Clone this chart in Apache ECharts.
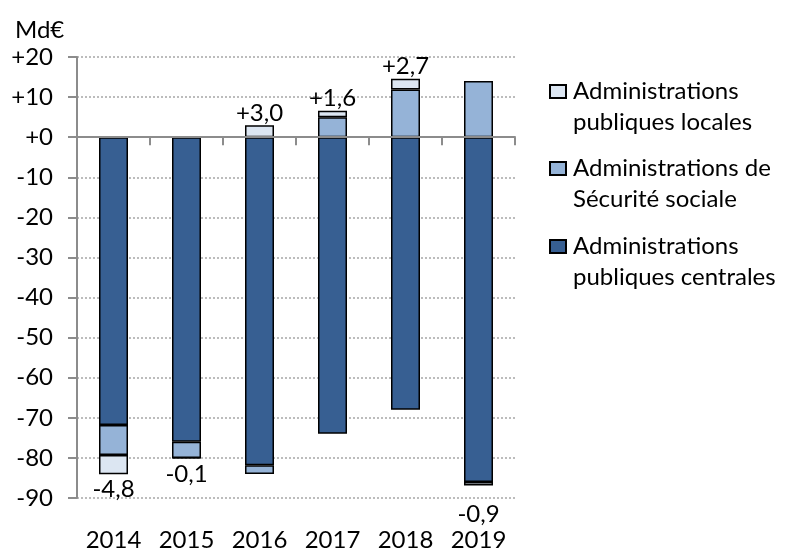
<!DOCTYPE html>
<html>
<head>
<meta charset="utf-8">
<script src="https://cdn.jsdelivr.net/npm/echarts@6/dist/echarts.min.js"></script>
<style>html,body{margin:0;padding:0;background:#fff}#c{width:786px;height:552px}</style>
</head>
<body>
<div id="c"></div>
<script>
const years = ['2014', '2015', '2016', '2017', '2018', '2019'];
const centrales = [-71.8, -76.0, -81.8, -74.0, -68.0, -86.0];
const securiteSociale = [-7.5, -4.0, -2.2, 5.0, 11.9, 14.0];
const locales = [-4.8, -0.1, 3.0, 1.6, 2.7, -0.9];
const yTicks = {min: -90, max: 20, interval: 10};
const seriesNames = ['Administrations publiques centrales', 'Administrations de Sécurité sociale', 'Administrations publiques locales'];
const legendLabels = {
  'Administrations publiques locales': ['Administrations', 'publiques locales'],
  'Administrations de Sécurité sociale': ['Administrations de', 'Sécurité sociale'],
  'Administrations publiques centrales': ['Administrations', 'publiques centrales']
};

const FONT = 'Lato';
const FS = 24;
const colors = ['#375F92', '#95B3D7', '#DCE6F2'];
const fmt = v => (v > 0 ? '+' : '') + v.toFixed(1).replace('.', ',');
const labelExtraDistance = {5: 17};

const chart = echarts.init(document.getElementById('c'), null, {renderer: 'canvas'});

function barSeries(name, values, color, withLabel) {
  return {
    name: name,
    type: 'bar',
    stack: 'total',
    barWidth: 29,
    xAxisIndex: 0,
    itemStyle: {color: color, borderColor: '#000', borderWidth: 1.5},
    data: values.map((v, i) => {
      const d = {value: v};
      if (withLabel) {
        d.label = {
          show: true,
          position: v >= 0 ? 'top' : 'bottom',
          distance: labelExtraDistance[i] != null ? labelExtraDistance[i] : (v >= 0 ? 0 : 3),
          formatter: () => fmt(v)
        };
      }
      return d;
    }),
    label: {fontFamily: FONT, fontSize: FS, color: '#000'}
  };
}

function legendFor(name, top) {
  return {
    data: [name],
    left: 549,
    top: top,
    padding: 0,
    itemWidth: 16,
    itemHeight: 13,
    icon: 'rect',
    selectedMode: false,
    // a blank first line keeps the icon level with the first text line
    formatter: n => '\u00a0\n' + legendLabels[n].join('\n'),
    textStyle: {fontFamily: FONT, fontSize: FS, color: '#000', lineHeight: 31, padding: [0, 0, 0, 2]}
  };
}

const option = {
  animation: false,
  title: {text: 'Md€', left: 15, top: 18, padding: 0, textStyle: {fontFamily: FONT, fontSize: FS, fontWeight: 'normal', color: '#000'}},
  legend: [
    legendFor(seriesNames[2], 45),
    legendFor(seriesNames[1], 122),
    legendFor(seriesNames[0], 200)
  ],
  grid: {left: 77, right: 271, top: 57, bottom: 54, containLabel: false},
  xAxis: [
    {
      type: 'category', data: years, position: 'bottom',
      axisLine: {show: false, onZero: false},
      axisTick: {show: false},
      axisLabel: {fontFamily: FONT, fontSize: FS, color: '#000', margin: 30}
    },
    {
      type: 'category', data: years, position: 'bottom',
      axisLine: {show: true, onZero: true, lineStyle: {color: '#8c8c8c', width: 2}},
      axisTick: {show: true, length: 8, lineStyle: {color: '#8c8c8c', width: 2}},
      axisLabel: {show: false},
      z: 10
    }
  ],
  yAxis: {
    type: 'value', min: yTicks.min, max: yTicks.max, interval: yTicks.interval,
    axisLine: {show: true, lineStyle: {color: '#8c8c8c', width: 2}},
    axisTick: {show: true, length: 9, lineStyle: {color: '#8c8c8c', width: 2}},
    axisLabel: {fontFamily: FONT, fontSize: FS, color: '#000', margin: 24, formatter: v => (v >= 0 ? '+' : '') + v},
    splitLine: {show: true, lineStyle: {color: '#a6a6a6', type: [2, 2], width: 1.5}}
  },
  series: [
    barSeries(seriesNames[0], centrales, colors[0], false),
    barSeries(seriesNames[1], securiteSociale, colors[1], false),
    barSeries(seriesNames[2], locales, colors[2], true)
  ]
};
chart.setOption(option);
</script>
</body>
</html>
